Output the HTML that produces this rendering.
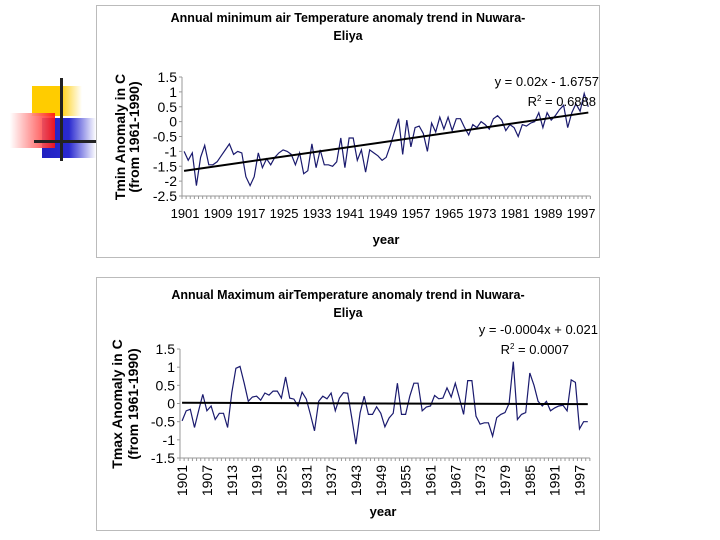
<!DOCTYPE html>
<html><head><meta charset="utf-8"><style>
body{margin:0;background:#fff;}
svg{display:block;font-family:"Liberation Sans",Arial,sans-serif;}
</style></head><body>
<svg id="s" width="720" height="540" viewBox="0 0 720 540">
<defs>
<linearGradient id="gy" x1="0" x2="1"><stop offset="0" stop-color="#ffcc00"/><stop offset="0.55" stop-color="#ffcc00"/><stop offset="1" stop-color="#fff"/></linearGradient>
<linearGradient id="gr" x1="0" x2="1"><stop offset="0" stop-color="#fff"/><stop offset="1" stop-color="#ff1010"/></linearGradient>
<linearGradient id="gb" x1="0" x2="1"><stop offset="0" stop-color="#2020c0"/><stop offset="0.5" stop-color="#2a2ad0"/><stop offset="1" stop-color="#fff"/></linearGradient>
</defs>
<g>
<rect x="32" y="86" width="50" height="30" fill="url(#gy)"/>
<rect x="42" y="118" width="54" height="40" fill="url(#gb)"/>
<rect x="10" y="113" width="45" height="35" fill="url(#gr)" opacity="0.9"/>
<rect x="60" y="78" width="3" height="83" fill="#222"/>
<rect x="34" y="140" width="62" height="3" fill="#222"/>
</g>
<rect x="96.5" y="5.5" width="503" height="252" fill="#fff" stroke="#bbb"/>
<rect x="96.5" y="277.5" width="503" height="253" fill="#fff" stroke="#bbb"/>
<g id="c1"></g>
<g id="c2"></g>
</svg>
<script>
const minValues = [-1.0,-1.3,-1.05,-2.15,-1.2,-0.8,-1.45,-1.45,-1.35,-1.15,
-0.95,-0.75,-1.1,-1.0,-1.05,-1.85,-2.15,-1.85,-1.05,-1.55,
-1.25,-1.45,-1.2,-1.05,-0.95,-1.0,-1.1,-1.45,-1.05,-1.75,
-1.65,-0.75,-1.55,-0.95,-1.45,-1.45,-1.5,-1.35,-0.55,-1.55,
-0.55,-0.55,-1.3,-0.95,-1.7,-0.95,-1.05,-1.15,-1.3,-1.2,
-0.8,-0.35,0.1,-1.1,0.05,-0.85,-0.2,-0.15,-0.4,-1.0,
-0.05,-0.35,0.15,-0.25,0.15,-0.3,0.1,0.1,-0.2,-0.45,
-0.1,-0.2,0.0,-0.1,-0.25,0.1,0.2,0.05,-0.3,-0.1,
-0.2,-0.5,-0.1,-0.15,-0.05,0.0,0.3,-0.2,0.3,0.05,
0.2,0.4,0.55,-0.2,0.3,0.6,0.35,0.95,0.5];
const maxValues = [-0.48,-0.2,-0.16,-0.66,-0.2,0.25,-0.2,-0.07,-0.44,-0.27,
-0.27,-0.66,0.3,0.97,1.02,0.56,0.06,0.18,0.2,0.09,
0.29,0.23,0.34,0.34,0.15,0.73,0.15,0.12,-0.07,0.31,
0.12,-0.3,-0.75,0.06,0.2,0.13,0.29,-0.2,0.15,0.3,
0.28,-0.4,-1.12,-0.26,0.2,-0.3,-0.3,-0.09,-0.27,-0.64,
-0.4,-0.27,0.56,-0.3,-0.3,0.2,0.56,0.56,-0.2,-0.1,
-0.07,0.22,0.13,0.15,0.43,0.18,0.56,0.15,-0.3,0.63,
0.63,-0.35,-0.57,-0.53,-0.53,-0.9,-0.39,-0.3,-0.25,0.0,
1.15,-0.44,-0.3,-0.25,0.84,0.5,0.06,-0.07,0.06,-0.2,
-0.12,-0.07,-0.05,-0.2,0.65,0.58,-0.7,-0.5,-0.5];
const minYTicks = [1.5,1,0.5,0,-0.5,-1,-1.5,-2,-2.5];
const maxYTicks = [1.5,1,0.5,0,-0.5,-1,-1.5];
const minTrend = [0.02,-1.6757];
const maxTrend = [-0.0004,0.021];
const minXLabelStep = 8, maxXLabelStep = 6, firstYear = 1901;

const NS="http://www.w3.org/2000/svg";
function mk(p,t,a,txt){const e=document.createElementNS(NS,t);for(const k in a)e.setAttribute(k,a[k]);if(txt!=null)e.textContent=txt;p.appendChild(e);return e;}

function draw(g,cfg){
  const n=cfg.values.length;
  const x=i=>cfg.x0+(i+0.5)*cfg.step;
  const y=v=>cfg.y0+(cfg.ymax-v)/(cfg.ymax-cfg.ymin)*(cfg.y1-cfg.y0);
  let t=mk(g,'text',{x:348,y:cfg.ty,'text-anchor':'middle','font-size':12.5,'font-weight':'bold'},cfg.title1);
  
  
  t=mk(g,'text',{x:348,y:cfg.ty+18,'text-anchor':'middle','font-size':12.5,'font-weight':'bold'},'Eliya');
  
  
  let ax=mk(g,'line',{x1:cfg.x0,x2:cfg.x0,y1:cfg.y0,y2:cfg.y1,stroke:'#999'});
  
  
  cfg.ticks.forEach(v=>{
    mk(g,'line',{x1:cfg.x0-3,x2:cfg.x0,y1:y(v),y2:y(v),stroke:'#999'});
    const l=mk(g,'text',{x:cfg.x0-5,y:y(v)+5,'text-anchor':'end','font-size':14},String(v));
    
    
  });
  ax=mk(g,'line',{x1:cfg.x0,x2:cfg.x0+n*cfg.step,y1:cfg.y1,y2:cfg.y1,stroke:'#999'});
  
  
  for(let i=0;i<=n;i++)mk(g,'line',{x1:cfg.x0+i*cfg.step,x2:cfg.x0+i*cfg.step,y1:cfg.y1,y2:cfg.y1+3,stroke:'#999'});
  for(let i=0;i<n;i+=cfg.lstep){
    const yr=String(firstYear+i);
    let l;
    if(cfg.rot){l=mk(g,'text',{x:0,y:0,'text-anchor':'end','font-size':14,transform:`translate(${x(i)+5},${cfg.y1+7}) rotate(-90)`},yr);}
    else{l=mk(g,'text',{x:x(i)+1,y:cfg.y1+22,'text-anchor':'middle','font-size':13},yr);}
    
    
  }
  t=mk(g,'text',{x:cfg.xtx,y:cfg.xty,'text-anchor':'middle','font-size':13,'font-weight':'bold'},'year');
  
  
  const yt=mk(g,'g',{transform:`translate(${cfg.ytx},${cfg.yty}) rotate(-90)`});
  
  
  mk(yt,'text',{x:0,y:0,'text-anchor':'middle','font-size':14,'font-weight':'bold'},cfg.ytitle);
  mk(yt,'text',{x:0,y:cfg.ytgap,'text-anchor':'middle','font-size':14,'font-weight':'bold'},'(from 1961-1990)');
  const pts=cfg.values.map((v,i)=>x(i).toFixed(1)+','+y(v).toFixed(1)).join(' ');
  const pl=mk(g,'polyline',{points:pts,fill:'none',stroke:'#1a1a6e','stroke-width':1.2});
  
  
  const tl=mk(g,'line',{x1:x(0),x2:x(n-1),y1:y(cfg.trend[0]*1+cfg.trend[1]),y2:y(cfg.trend[0]*n+cfg.trend[1]),stroke:'#000','stroke-width':2});
  
  
  t=mk(g,'text',{x:cfg.eqx,y:cfg.eqy,'text-anchor':'end','font-size':13},cfg.eq);
  
  
  t=mk(g,'text',{x:cfg.r2x,y:cfg.eqy+20,'text-anchor':'end','font-size':13});
  
  
  t.innerHTML='R<tspan dy="-5" font-size="8">2</tspan><tspan dy="5"> = '+cfg.r2+'</tspan>';
}
draw(document.getElementById('c1'),{values:minValues,ticks:minYTicks,trend:minTrend,x0:182,step:4.125,y0:77,y1:196,ymax:1.5,ymin:-2.5,
  title1:'Annual minimum air  Temperature anomaly trend in Nuwara-',ty:22,lstep:minXLabelStep,rot:false,xtx:386,xty:244,
  ytx:125,yty:137,ytgap:14,ytitle:'Tmin Anomaly in C',eq:'y = 0.02x - 1.6757',eqx:599,eqy:86,r2:'0.6888',r2x:596});
draw(document.getElementById('c2'),{values:maxValues,ticks:maxYTicks,trend:maxTrend,x0:180,step:4.14,y0:349,y1:458,ymax:1.5,ymin:-1.5,
  title1:'Annual Maximum airTemperature anomaly trend in Nuwara-',ty:299,lstep:maxXLabelStep,rot:true,xtx:383,xty:516,
  ytx:122,yty:404,ytgap:16,ytitle:'Tmax Anomaly in C',eq:'y = -0.0004x + 0.021',eqx:598,eqy:334,r2:'0.0007',r2x:569});
</script>
</body></html>
